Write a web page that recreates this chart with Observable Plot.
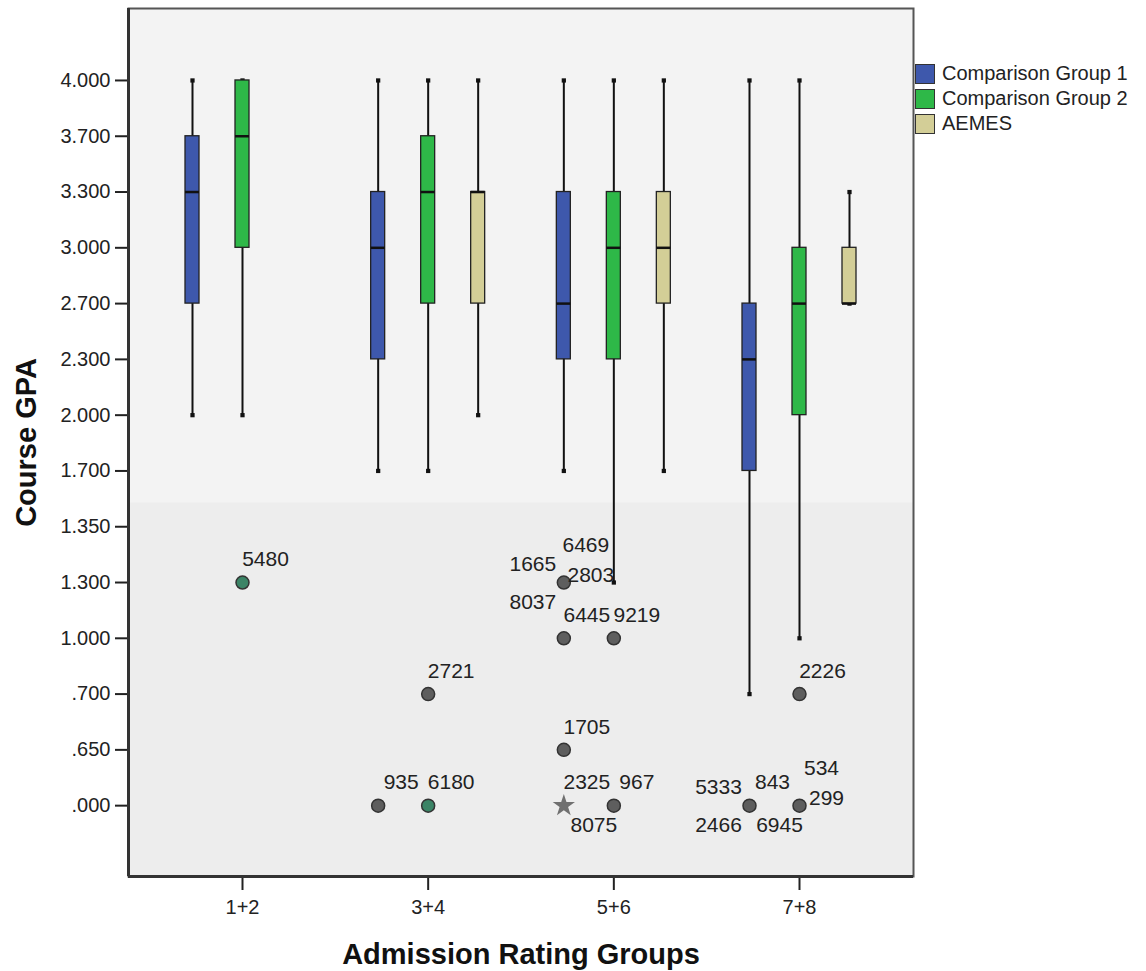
<!DOCTYPE html>
<html>
<head>
<meta charset="utf-8">
<script src="https://cdn.jsdelivr.net/npm/d3@7"></script>
<script src="https://cdn.jsdelivr.net/npm/@observablehq/plot@0.6"></script>
<style>
  body { margin: 0; background: #ffffff; font-family: "Liberation Sans", Arial, sans-serif; }
  #wrap { position: relative; width: 1146px; height: 971px; }
  #legend { position: absolute; left: 915px; top: 61px; font-size: 20px; color: #222; }
  #legend .item { display: flex; align-items: center; height: 25px; white-space: nowrap; }
  #legend .sw { width: 20px; height: 20px; border: 1px solid #333; box-sizing: border-box; margin-right: 7px; }
  svg [aria-label^="y-axis"] text, svg [aria-label^="x-axis"] text { font-size: 20px; fill: #222; }
  svg [aria-label^="y-axis"] line, svg [aria-label^="x-axis"] line,
  svg [aria-label="y-axis tick"] path, svg [aria-label="x-axis tick"] path { stroke-width: 2px; stroke: #222; }
</style>
</head>
<body>
<div id="wrap"><div id="chart"></div><div id="legend"></div></div>
<script>
// ---------------- data ----------------
const categories = ["1+2", "3+4", "5+6", "7+8"];
const groups = ["Comparison Group 1", "Comparison Group 2", "AEMES"];

// y axis: SPSS shows the observed GPA values as equally spaced categories
const gpaTickLabels = ["4.000", "3.700", "3.300", "3.000", "2.700", "2.300", "2.000", "1.700", "1.350", "1.300", "1.000", ".700", ".650", ".000"];
const gpaTickValues = [4.0, 3.7, 3.3, 3.0, 2.7, 2.3, 2.0, 1.7, 1.35, 1.3, 1.0, 0.7, 0.65, 0.0];

// box plot summaries
const boxCategory     = ["1+2", "1+2", "3+4", "3+4", "3+4", "5+6", "5+6", "5+6", "7+8", "7+8", "7+8"];
const boxGroup        = ["Comparison Group 1", "Comparison Group 2",
                         "Comparison Group 1", "Comparison Group 2", "AEMES",
                         "Comparison Group 1", "Comparison Group 2", "AEMES",
                         "Comparison Group 1", "Comparison Group 2", "AEMES"];
const boxUpperWhisker = [4.0, 4.0, 4.0, 4.0, 4.0, 4.0, 4.0, 4.0, 4.0, 4.0, 3.3];
const boxQ3           = [3.7, 4.0, 3.3, 3.7, 3.3, 3.3, 3.3, 3.3, 2.7, 3.0, 3.0];
const boxMedian       = [3.3, 3.7, 3.0, 3.3, 3.3, 2.7, 3.0, 3.0, 2.3, 2.7, 2.7];
const boxQ1           = [2.7, 3.0, 2.3, 2.7, 2.7, 2.3, 2.3, 2.7, 1.7, 2.0, 2.7];
const boxLowerWhisker = [2.0, 2.0, 1.7, 1.7, 2.0, 1.7, 1.3, 1.7, 0.7, 1.0, 2.7];

// outliers (circle) and extremes (star)
const outlierCategory = ["1+2", "3+4", "3+4", "3+4", "5+6", "5+6", "5+6", "5+6", "5+6", "5+6", "7+8", "7+8", "7+8"];
const outlierGroup    = ["Comparison Group 2", "Comparison Group 1", "Comparison Group 2", "Comparison Group 2",
                         "Comparison Group 1", "Comparison Group 1", "Comparison Group 1", "Comparison Group 1",
                         "Comparison Group 2", "Comparison Group 2",
                         "Comparison Group 1", "Comparison Group 2", "Comparison Group 2"];
const outlierGpa      = [1.3, 0.0, 0.7, 0.0, 1.3, 1.0, 0.65, 0.0, 1.0, 0.0, 0.0, 0.7, 0.0];
const outlierKind     = ["outlier", "outlier", "outlier", "outlier", "outlier", "outlier", "outlier",
                         "extreme", "outlier", "outlier", "outlier", "outlier", "outlier"];

// case-number labels and the outlier they belong to
const caseLabels     = ["5480", "935", "2721", "6180", "1665", "6469", "2803", "8037", "6445", "1705",
                        "2325", "8075", "9219", "967", "5333", "843", "2466", "6945", "2226", "534", "299"];
const caseLabelPoint = [0, 1, 2, 3, 4, 4, 4, 4, 5, 6, 7, 7, 8, 9, 10, 10, 10, 10, 11, 12, 12];

// ---------------- style / layout ----------------
const groupColors = ["#3E58AC", "#2EB848", "#D3CE97"];
const highlightedCases = ["5480", "6180"];
const caseLabelPlacement = ["n", "n", "n", "n", "nw", "nn", "e", "sw", "n", "n",
                            "n", "se", "n", "n", "nw", "n", "sw", "se", "n", "nn", "e"];
const placementOffsets = {
  n:  {dx: 23,  dy: -23},
  nn: {dx: 22,  dy: -37},
  e:  {dx: 27,  dy: -7},
  nw: {dx: -31, dy: -18},
  sw: {dx: -31, dy: 20},
  se: {dx: 30,  dy: 20}
};

const W = 1146, H = 971;
const mL = 128, mR = 233, mT = 8, mB = 95;
const xDomain = [-0.614, 3.614];
const yDomain = [14.27, -1.29];
const pxPerX = (W - mL - mR) / (xDomain[1] - xDomain[0]);
const clusterStep = 50 / pxPerX;   // spacing between group boxes in a cluster
const boxHalf = 7 / pxPerX;        // half the width of a box

const levelIndex = v => gpaTickValues.findIndex(t => Math.abs(t - v) < 1e-9);
const xPos = (cat, grp) => categories.indexOf(cat) + (groups.indexOf(grp) - 1) * clusterStep;

const boxes = boxCategory.map((c, i) => ({
  category: c, group: boxGroup[i],
  hi: levelIndex(boxUpperWhisker[i]), q3: levelIndex(boxQ3[i]), med: levelIndex(boxMedian[i]),
  q1: levelIndex(boxQ1[i]), lo: levelIndex(boxLowerWhisker[i]),
  x: xPos(c, boxGroup[i])
}));
const caps = boxes.flatMap(b => [{x: b.x, y: b.hi}, {x: b.x, y: b.lo}]);

const points = outlierCategory.map((c, i) => ({
  x: xPos(c, outlierGroup[i]), y: levelIndex(outlierGpa[i]), kind: outlierKind[i],
  highlighted: caseLabels.some((l, j) => caseLabelPoint[j] === i && highlightedCases.includes(l))
}));
const labels = caseLabels.map((l, j) => ({
  text: l, x: points[caseLabelPoint[j]].x, y: points[caseLabelPoint[j]].y, place: caseLabelPlacement[j]
}));

const labelMarks = Object.entries(placementOffsets).map(([code, o]) =>
  Plot.text(labels.filter(d => d.place === code), {
    x: "x", y: "y", text: "text", dx: o.dx, dy: o.dy,
    textAnchor: "middle", lineAnchor: "middle", fontSize: 21, fill: "#222"
  })
);

const chart = Plot.plot({
  width: W, height: H,
  marginLeft: mL, marginRight: mR, marginTop: mT, marginBottom: mB,
  style: {fontFamily: "'Liberation Sans', Arial, sans-serif", fontSize: "20px", color: "#222", background: "transparent"},
  x: {domain: xDomain, ticks: categories.map((c, i) => i), tickFormat: i => categories[i],
      tickSize: 14, tickPadding: 9, label: null},
  y: {domain: yDomain, ticks: gpaTickLabels.map((t, i) => i), tickFormat: i => gpaTickLabels[i],
      tickSize: 13, tickPadding: 5, label: null},
  color: {domain: groups, range: groupColors},
  marks: [
    Plot.frame({fill: "#ededed"}),
    Plot.frame({fill: "#f3f3f3", insetBottom: 374}),
    // whiskers
    Plot.ruleX(boxes, {x: "x", y1: "lo", y2: "hi", stroke: "#111", strokeWidth: 2}),
    Plot.dot(caps, {x: "x", y: "y", symbol: "square", r: 2.4, fill: "#111"}),
    // boxes
    Plot.rect(boxes, {x1: d => d.x - boxHalf, x2: d => d.x + boxHalf, y1: "q1", y2: "q3",
                      fill: "group", stroke: "#222", strokeWidth: 1.3}),
    // medians
    Plot.ruleY(boxes, {x1: d => d.x - boxHalf, x2: d => d.x + boxHalf, y: "med", stroke: "#111", strokeWidth: 2.5}),
    // outliers
    Plot.dot(points.filter(d => d.kind === "outlier"), {
      x: "x", y: "y", r: 6.5, stroke: "#333", strokeWidth: 1.5,
      fill: d => d.highlighted ? "#3b8466" : "#5e5e5e"
    }),
    Plot.dot(points.filter(d => d.kind === "extreme"), {
      x: "x", y: "y", symbol: "star", r: 7, fill: "#707070"
    }),
    ...labelMarks,
    // axis titles
    Plot.text(["Course GPA"], {text: d => d, frameAnchor: "left", dx: -102, rotate: -90,
      textAnchor: "middle", lineAnchor: "middle", fontSize: 29, fontWeight: "bold", fill: "#111"}),
    Plot.text(["Admission Rating Groups"], {text: d => d, frameAnchor: "bottom", dy: 78,
      textAnchor: "middle", lineAnchor: "middle", fontSize: 29, fontWeight: "bold", fill: "#111"}),
    // frame lines
    Plot.frame({stroke: "#555", strokeWidth: 2}),
    Plot.ruleX([xDomain[0]], {stroke: "#333", strokeWidth: 3}),
    Plot.ruleY([yDomain[0]], {stroke: "#333", strokeWidth: 3})
  ]
});
document.getElementById("chart").appendChild(chart);

// legend
const legend = document.getElementById("legend");
groups.forEach((g, i) => {
  const item = document.createElement("div");
  item.className = "item";
  const sw = document.createElement("span");
  sw.className = "sw";
  sw.style.background = groupColors[i];
  const label = document.createElement("span");
  label.textContent = g;
  item.appendChild(sw);
  item.appendChild(label);
  legend.appendChild(item);
});
</script>
</body>
</html>
